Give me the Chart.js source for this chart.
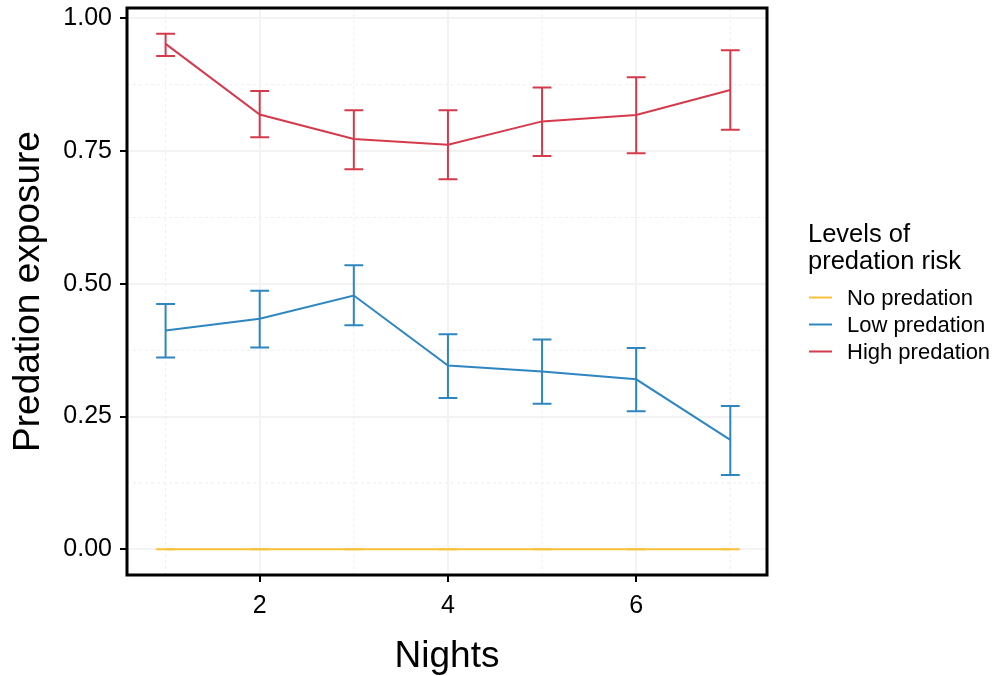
<!DOCTYPE html>
<html>
<head>
<meta charset="utf-8">
<script src="https://cdn.jsdelivr.net/npm/chart.js@4.4.1/dist/chart.umd.min.js"></script>
<style>
html,body{margin:0;padding:0;background:#fff;}
canvas{display:block;}
</style>
</head>
<body>
<canvas id="c" width="996" height="676"></canvas>
<script>
// ---------- data ----------
const nights = [1, 2, 3, 4, 5, 6, 7];
const seriesNames = ['No predation', 'Low predation', 'High predation'];
const noMean = [0, 0, 0, 0, 0, 0, 0];
const noLo   = [0, 0, 0, 0, 0, 0, 0];
const noHi   = [0, 0, 0, 0, 0, 0, 0];
const lowMean = [0.412, 0.434, 0.478, 0.346, 0.335, 0.320, 0.206];
const lowLo   = [0.361, 0.380, 0.422, 0.285, 0.274, 0.260, 0.140];
const lowHi   = [0.462, 0.487, 0.535, 0.405, 0.395, 0.379, 0.270];
const highMean = [0.952, 0.819, 0.773, 0.762, 0.806, 0.818, 0.865];
const highLo   = [0.929, 0.776, 0.716, 0.697, 0.741, 0.746, 0.790];
const highHi   = [0.971, 0.863, 0.827, 0.827, 0.870, 0.889, 0.940];
const yTicks = [0, 0.25, 0.5, 0.75, 1];
const yTickLabels = ['0.00', '0.25', '0.50', '0.75', '1.00'];
const xTicks = [2, 4, 6];
const yMinorTicks = [0.125, 0.375, 0.625, 0.875];
const xMinorTicks = [1, 3, 5, 7];
const xTitle = 'Nights';
const yTitle = 'Predation exposure';
const legendTitle = ['Levels of', 'predation risk'];

// ---------- style ----------
const FONT = "'Liberation Sans', Arial, Helvetica, sans-serif";
const colors = ['#f8c13a', '#2e86c1', '#d53a4c'];
const capHalf = 0.1;

const toPts = (m) => nights.map((n, i) => ({ x: n, y: m[i] }));
const means = [noMean, lowMean, highMean];
const los = [noLo, lowLo, highLo];
const his = [noHi, lowHi, highHi];

const datasets = seriesNames.map((name, k) => ({
  label: name,
  data: toPts(means[k]),
  errLo: los[k],
  errHi: his[k],
  borderColor: colors[k],
  backgroundColor: colors[k],
  borderWidth: 2,
  pointRadius: 0,
  tension: 0,
  fill: false,
  order: 3 - k
}));

const minorGrid = {
  id: 'minorGrid',
  beforeDatasetsDraw(chart) {
    const { ctx, chartArea: a, scales: { x, y } } = chart;
    ctx.save();
    ctx.strokeStyle = '#efefef';
    ctx.lineWidth = 1;
    ctx.setLineDash([3, 3]);
    xMinorTicks.forEach(v => {
      const p = x.getPixelForValue(v);
      ctx.beginPath(); ctx.moveTo(p, a.top); ctx.lineTo(p, a.bottom); ctx.stroke();
    });
    yMinorTicks.forEach(v => {
      const p = y.getPixelForValue(v);
      ctx.beginPath(); ctx.moveTo(a.left, p); ctx.lineTo(a.right, p); ctx.stroke();
    });
    ctx.restore();
  }
};

const errorBars = {
  id: 'errorBars',
  afterDatasetsDraw(chart) {
    const { ctx, scales: { x, y } } = chart;
    chart.data.datasets.forEach(ds => {
      ctx.save();
      ctx.strokeStyle = ds.borderColor;
      ctx.lineWidth = 2;
      ds.data.forEach((pt, i) => {
        const px = x.getPixelForValue(pt.x);
        const pl = x.getPixelForValue(pt.x - capHalf);
        const pr = x.getPixelForValue(pt.x + capHalf);
        const yl = y.getPixelForValue(ds.errLo[i]);
        const yh = y.getPixelForValue(ds.errHi[i]);
        ctx.beginPath();
        ctx.moveTo(px, yl); ctx.lineTo(px, yh);
        ctx.moveTo(pl, yl); ctx.lineTo(pr, yl);
        ctx.moveTo(pl, yh); ctx.lineTo(pr, yh);
        ctx.stroke();
      });
      ctx.restore();
    });
  }
};

const frameAndLegend = {
  id: 'frameAndLegend',
  afterDraw(chart) {
    const { ctx, chartArea: a } = chart;
    ctx.save();
    ctx.strokeStyle = '#000';
    ctx.lineWidth = 3;
    ctx.strokeRect(a.left, a.top, a.right - a.left, a.bottom - a.top);
    // legend
    ctx.fillStyle = '#000';
    ctx.textAlign = 'left';
    ctx.textBaseline = 'alphabetic';
    ctx.font = '25.5px ' + FONT;
    ctx.fillText(legendTitle[0], 808, 242);
    ctx.fillText(legendTitle[1], 808, 269);
    ctx.font = '22px ' + FONT;
    ctx.textBaseline = 'middle';
    chart.data.datasets.forEach((ds, k) => {
      const yy = 297.5 + k * 27;
      ctx.strokeStyle = ds.borderColor;
      ctx.lineWidth = 2;
      ctx.beginPath(); ctx.moveTo(809, yy); ctx.lineTo(832, yy); ctx.stroke();
      ctx.fillText(ds.label, 847, yy + 1);
    });
    ctx.restore();
  }
};

new Chart(document.getElementById('c'), {
  type: 'line',
  data: { datasets },
  options: {
    responsive: false,
    animation: false,
    devicePixelRatio: 1,
    layout: { padding: { left: 0, right: 229, top: 8, bottom: 0 } },
    plugins: { legend: { display: false }, tooltip: { enabled: false } },
    scales: {
      x: {
        type: 'linear',
        min: 0.59,
        max: 7.39,
        afterFit(s) { s.height = 101; s.paddingLeft = 0; s.paddingRight = 0; },
        afterBuildTicks(s) { s.ticks = xTicks.map(v => ({ value: v })); },
        grid: { color: '#f3f3f3', lineWidth: 2, tickColor: '#000', tickWidth: 2, tickLength: 7, drawTicks: true },
        border: { display: false },
        ticks: { color: '#000', font: { family: FONT, size: 25 }, padding: 9, maxRotation: 0, callback: v => String(v) },
        title: { display: true, text: xTitle, color: '#000', font: { family: FONT, size: 37 }, padding: { top: 0, bottom: -3 } }
      },
      y: {
        type: 'linear',
        min: -0.0486,
        max: 1.0196,
        afterFit(s) { s.width = 127; s.paddingTop = 0; s.paddingBottom = 0; },
        afterBuildTicks(s) { s.ticks = yTicks.map(v => ({ value: v })); },
        grid: { color: '#f3f3f3', lineWidth: 2, tickColor: '#000', tickWidth: 2, tickLength: 7, drawTicks: true },
        border: { display: false },
        ticks: { color: '#000', font: { family: FONT, size: 25 }, padding: 8,
          callback: (v) => { const i = yTicks.indexOf(v); return i >= 0 ? yTickLabels[i] : ''; } },
        title: { display: true, text: yTitle, color: '#000', font: { family: FONT, size: 37 }, padding: { top: 7, bottom: 0 } }
      }
    }
  },
  plugins: [minorGrid, errorBars, frameAndLegend]
});
</script>
</body>
</html>
